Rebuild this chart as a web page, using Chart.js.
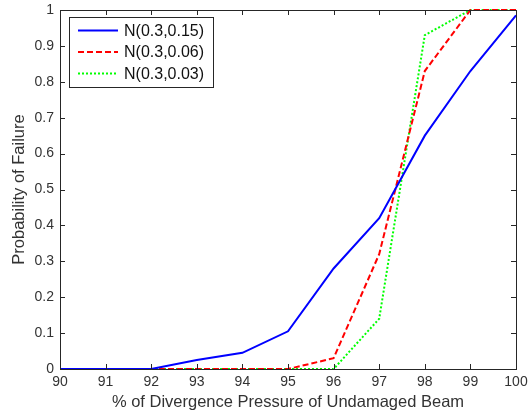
<!DOCTYPE html>
<html>
<head>
<meta charset="utf-8">
<script src="https://cdn.jsdelivr.net/npm/chart.js@4/dist/chart.umd.min.js"></script>
<style>
  html, body { margin: 0; padding: 0; background: #fff; }
  #wrap { width: 529px; height: 416px; }
</style>
</head>
<body>
<div id="wrap"><canvas id="c" width="529" height="416"></canvas></div>
<script>
// Pressure levels (% of divergence pressure of the undamaged beam)
const pressure = [90, 91, 92, 93, 94, 95, 96, 97, 98, 99, 100];

// Probability of failure for each damage distribution
const pfWide   = [0, 0, 0, 0.025, 0.045, 0.105, 0.28, 0.42, 0.65, 0.83, 0.985]; // N(0.3,0.15)
const pfMid    = [0, 0, 0, 0, 0, 0, 0.03, 0.32, 0.83, 1.0, 1.0];                 // N(0.3,0.06)
const pfNarrow = [0, 0, 0, 0, 0, 0, 0, 0.14, 0.93, 1.0, 1.0];                    // N(0.3,0.03)

const seriesNames = ['N(0.3,0.15)', 'N(0.3,0.06)', 'N(0.3,0.03)'];
const xTicks = [90, 91, 92, 93, 94, 95, 96, 97, 98, 99, 100];
const yTicks = [0, 0.1, 0.2, 0.3, 0.4, 0.5, 0.6, 0.7, 0.8, 0.9, 1];

const FONT = 'Arial, "Liberation Sans", sans-serif';
const TEXT = '#333';

function pts(ys) { return pressure.map((x, i) => ({ x: x, y: ys[i] })); }

// Box around the axes, inward ticks on all four sides, and a boxed legend
const frame = {
  id: 'frame',
  afterDatasetsDraw(chart) {
    const ctx = chart.ctx;
    const a = chart.chartArea;
    const xs = chart.scales.x, ys = chart.scales.y;
    ctx.save();
    ctx.strokeStyle = '#262626';
    ctx.lineWidth = 1;
    ctx.beginPath();
    xTicks.forEach(v => {
      const px = Math.round(xs.getPixelForValue(v)) + 0.5;
      ctx.moveTo(px, a.bottom); ctx.lineTo(px, a.bottom - 5);
      ctx.moveTo(px, a.top); ctx.lineTo(px, a.top + 5);
    });
    yTicks.forEach(v => {
      const py = Math.round(ys.getPixelForValue(v)) + 0.5;
      ctx.moveTo(a.left, py); ctx.lineTo(a.left + 5, py);
      ctx.moveTo(a.right, py); ctx.lineTo(a.right - 5, py);
    });
    ctx.stroke();
    ctx.strokeRect(Math.round(a.left) + 0.5, Math.round(a.top) + 0.5,
                   Math.round(a.right - a.left), Math.round(a.bottom - a.top));

    // legend
    const lx = 69.5, ly = 17.5, lw = 144, lh = 70;
    ctx.fillStyle = '#fff';
    ctx.fillRect(lx, ly, lw, lh);
    ctx.strokeStyle = '#262626';
    ctx.strokeRect(lx, ly, lw, lh);
    ctx.font = '16px ' + FONT;
    ctx.textBaseline = 'middle';
    chart.data.datasets.forEach((ds, i) => {
      const yy = ly + 13 + i * 21.5;
      ctx.strokeStyle = ds.borderColor;
      ctx.lineWidth = ds.borderWidth;
      ctx.setLineDash(ds.borderDash || []);
      ctx.beginPath();
      ctx.moveTo(78, yy); ctx.lineTo(118, yy);
      ctx.stroke();
      ctx.setLineDash([]);
      ctx.fillStyle = '#111';
      ctx.fillText(ds.label, 124, yy + 1);
    });
    ctx.restore();
  }
};

new Chart(document.getElementById('c'), {
  type: 'line',
  data: {
    datasets: [
      { label: seriesNames[0], data: pts(pfWide), borderColor: '#0000ff', borderWidth: 2, pointRadius: 0, fill: false, tension: 0 },
      { label: seriesNames[1], data: pts(pfMid), borderColor: '#ff0000', borderWidth: 2, borderDash: [6, 3], pointRadius: 0, fill: false, tension: 0 },
      { label: seriesNames[2], data: pts(pfNarrow), borderColor: '#00ff00', borderWidth: 2, borderDash: [2, 2], pointRadius: 0, fill: false, tension: 0 }
    ]
  },
  options: {
    responsive: false,
    animation: false,
    clip: false,
    layout: { padding: { left: 0, right: 13, top: 10, bottom: 0 } },
    plugins: { legend: { display: false }, tooltip: { enabled: false } },
    scales: {
      x: {
        type: 'linear', min: 90, max: 100,
        afterBuildTicks: s => { s.ticks = xTicks.map(v => ({ value: v })); },
        afterFit: s => { s.height = 47; s.paddingLeft = 0; s.paddingRight = 0; },
        grid: { display: false, drawTicks: false },
        border: { display: false },
        ticks: { color: TEXT, font: { family: FONT, size: 14 }, padding: 5, maxRotation: 0, autoSkip: false, callback: v => String(v) },
        title: { display: true, text: '% of Divergence Pressure of Undamaged Beam', color: TEXT, font: { family: FONT, size: 16.5 }, padding: { top: 2, bottom: 4 } }
      },
      y: {
        type: 'linear', min: 0, max: 1,
        afterBuildTicks: s => { s.ticks = yTicks.map(v => ({ value: v })); },
        afterFit: s => { s.width = 60; s.paddingTop = 0; s.paddingBottom = 0; },
        grid: { display: false, drawTicks: false },
        border: { display: false },
        ticks: { color: TEXT, font: { family: FONT, size: 14 }, padding: 6, autoSkip: false, callback: v => (Math.round(v * 10) / 10).toString() },
        title: { display: true, text: 'Probability of Failure', color: TEXT, font: { family: FONT, size: 16.5 }, padding: { top: 10, bottom: 4 } }
      }
    }
  },
  plugins: [frame]
});
</script>
</body>
</html>
